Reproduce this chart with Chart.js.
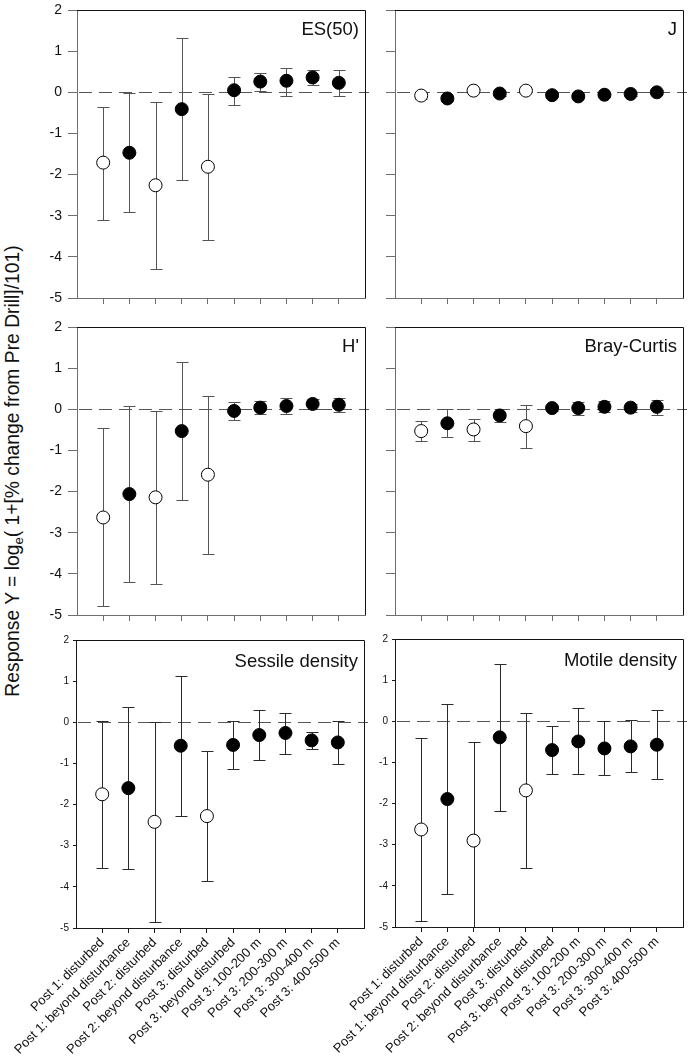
<!DOCTYPE html>
<html><head><meta charset="utf-8">
<script src="https://cdn.jsdelivr.net/npm/chart.js@4/dist/chart.umd.min.js"></script>
<style>
html,body{margin:0;padding:0;background:#fff;}
body{width:692px;height:1058px;position:relative;overflow:hidden;font-family:'Liberation Sans',Arial,sans-serif;}
canvas{position:absolute;}
#ytitle{position:absolute;left:14px;top:471px;white-space:nowrap;font-size:19.3px;color:#111;line-height:1;transform:translate(-50%,-50%) rotate(-90deg);}
#ytitle sub{font-size:13px;vertical-align:-4px;line-height:1;}
</style></head><body>
<div id="ytitle">Response Y = log<sub>e</sub>( 1+[% change from Pre Drill]/101)</div>
<canvas id="c0"></canvas><canvas id="c1"></canvas><canvas id="c2"></canvas>
<canvas id="c3"></canvas><canvas id="c4"></canvas><canvas id="c5"></canvas>
<script>
const categories = ['Post 1: disturbed','Post 1: beyond disturbance','Post 2: disturbed','Post 2: beyond disturbance','Post 3: disturbed','Post 3: beyond disturbed','Post 3: 100-200 m','Post 3: 200-300 m','Post 3: 300-400 m','Post 3: 400-500 m'];
const yTickValues = [2, 1, 0, -1, -2, -3, -4, -5];

const es50Mean = [-1.71, -1.47, -2.26, -0.41, -1.81, 0.05, 0.26, 0.28, 0.36, 0.23];
const es50Low  = [-3.10, -2.91, -4.30, -2.13, -3.59, -0.32, 0.04, -0.08, 0.18, -0.10];
const es50High = [-0.35, -0.01, -0.23, 1.31, -0.04, 0.38, 0.46, 0.60, 0.53, 0.54];

const jMean = [-0.08, -0.15, 0.04, -0.03, 0.04, -0.07, -0.10, -0.06, -0.04, 0.00];
const jLow  = [-0.17, -0.20, 0.00, -0.08, 0.00, -0.12, -0.15, -0.11, -0.09, -0.05];
const jHigh = [-0.02, -0.10, 0.08, 0.02, 0.08, -0.02, -0.05, -0.01, 0.01, 0.05];

const hMean = [-2.63, -2.06, -2.14, -0.53, -1.59, -0.04, 0.04, 0.08, 0.13, 0.11];
const hLow  = [-4.78, -4.21, -4.25, -2.20, -3.52, -0.27, -0.12, -0.12, 0.00, -0.07];
const hHigh = [-0.46, 0.08, -0.04, 1.15, 0.33, 0.18, 0.20, 0.28, 0.26, 0.28];

const brayMean = [-0.53, -0.34, -0.49, -0.15, -0.41, 0.03, 0.03, 0.06, 0.04, 0.06];
const brayLow  = [-0.77, -0.67, -0.76, -0.30, -0.94, -0.03, -0.13, -0.06, -0.06, -0.14];
const brayHigh = [-0.28, 0.00, -0.23, 0.00, 0.11, 0.09, 0.18, 0.20, 0.14, 0.23];

const sessileMean = [-1.75, -1.60, -2.42, -0.57, -2.28, -0.55, -0.31, -0.26, -0.44, -0.49];
const sessileLow  = [-3.55, -3.57, -4.85, -2.28, -3.86, -1.13, -0.91, -0.76, -0.64, -1.02];
const sessileHigh = [0.03, 0.38, 0.00, 1.13, -0.71, 0.03, 0.31, 0.23, -0.23, 0.04];

const motileMean = [-2.63, -1.89, -2.90, -0.39, -1.68, -0.70, -0.49, -0.66, -0.61, -0.57];
const motileLow  = [-4.85, -4.19, -5.30, -2.17, -3.56, -1.28, -1.28, -1.30, -1.24, -1.41];
const motileHigh = [-0.40, 0.42, -0.51, 1.39, 0.20, -0.12, 0.32, 0.00, 0.03, 0.28];

const FONT = "'Liberation Sans', Arial, sans-serif";
Chart.defaults.font.family = FONT;

const PW = 288, PH = 288;
const panels = [
  {id:'c0', title:'ES(50)', mean:es50Mean, low:es50Low, high:es50High, l:77, t:10, canvasL:0, yLabels:true, bottom:false},
  {id:'c1', title:'J', mean:jMean, low:jLow, high:jHigh, l:395, t:10, canvasL:370, yLabels:false, bottom:false},
  {id:'c2', title:"H'", mean:hMean, low:hLow, high:hHigh, l:77, t:327, canvasL:0, yLabels:true, bottom:false},
  {id:'c3', title:'Bray-Curtis', mean:brayMean, low:brayLow, high:brayHigh, l:395, t:327, canvasL:370, yLabels:false, bottom:false},
  {id:'c4', title:'Sessile density', mean:sessileMean, low:sessileLow, high:sessileHigh, l:76, t:640, canvasL:0, yLabels:true, bottom:true},
  {id:'c5', title:'Motile density', mean:motileMean, low:motileLow, high:motileHigh, l:395, t:639, canvasL:330, yLabels:true, bottom:true}
];

function isOpen(label){ return /: disturbed$/.test(label); }

function makePlugin(p){
  const barCol = p.bottom ? '#2a2a2a' : '#555555';
  return {
    id: 'panelDecor',
    beforeDatasetsDraw(chart){
      const {ctx, chartArea:a, scales:{x, y}} = chart;
      ctx.save();
      const y0 = Math.round(y.getPixelForValue(0)) + 0.5;
      ctx.strokeStyle = '#555';
      ctx.lineWidth = 1;
      ctx.setLineDash([13, 7]);
      ctx.beginPath(); ctx.moveTo(a.left + 2, y0); ctx.lineTo(a.right + 4, y0); ctx.stroke();
      ctx.setLineDash([]);
      ctx.beginPath(); ctx.rect(a.left, a.top, a.right - a.left, a.bottom - a.top); ctx.clip();
      ctx.strokeStyle = barCol;
      ctx.beginPath();
      p.mean.forEach((m, i) => {
        const px = Math.round(x.getPixelForValue(i)) + 0.5;
        const pl = Math.round(y.getPixelForValue(p.low[i])) + 0.5;
        const ph = Math.round(y.getPixelForValue(p.high[i])) + 0.5;
        ctx.moveTo(px, pl); ctx.lineTo(px, ph);
        ctx.moveTo(px - 6, pl); ctx.lineTo(px + 6, pl);
        ctx.moveTo(px - 6, ph); ctx.lineTo(px + 6, ph);
      });
      ctx.stroke();
      ctx.restore();
    },
    afterDraw(chart){
      const {ctx, chartArea:a} = chart;
      ctx.save();
      ctx.strokeStyle = '#111';
      ctx.lineWidth = 1;
      ctx.beginPath();
      ctx.moveTo(a.left, Math.round(a.top) + 0.5); ctx.lineTo(Math.round(a.right) + 0.5, Math.round(a.top) + 0.5);
      ctx.lineTo(Math.round(a.right) + 0.5, Math.round(a.bottom));
      ctx.stroke();
      ctx.fillStyle = '#111';
      ctx.font = '18.5px ' + FONT;
      ctx.textAlign = 'right';
      ctx.textBaseline = 'alphabetic';
      ctx.fillText(p.title, a.right - 6, a.top + (p.bottom ? 27 : 24.5));
      ctx.restore();
    }
  };
}

panels.forEach(p => {
  const yW = p.l - p.canvasL;
  const padTop = p.bottom ? 10 : 16, padRight = 8;
  const xH = p.bottom ? 130 : 18;
  const cv = document.getElementById(p.id);
  cv.width = yW + PW + padRight;
  cv.height = padTop + PH + xH;
  cv.style.left = p.canvasL + 'px';
  cv.style.top = (p.t - padTop) + 'px';
  const axisCol = p.bottom ? '#1a1a1a' : '#6e6e6e';
  new Chart(cv, {
    type: 'scatter',
    data: {
      datasets: [{
        data: p.mean.map((v, i) => ({x: i, y: v})),
        pointRadius: 6.5,
        pointHoverRadius: 6.5,
        pointBackgroundColor: categories.map(c => isOpen(c) ? '#ffffff' : '#000000'),
        pointBorderColor: '#000000',
        pointBorderWidth: 1,
        showLine: false
      }]
    },
    options: {
      responsive: false,
      animation: false,
      events: [],
      layout: {padding: {top: padTop, right: padRight, left: 0, bottom: 0}},
      plugins: {legend: {display: false}, tooltip: {enabled: false}},
      scales: {
        x: {
          type: 'linear', min: -1, max: 10,
          afterBuildTicks: s => { s.ticks = categories.map((_, i) => ({value: i})); },
          afterFit: s => { s.height = xH; },
          ticks: {
            display: p.bottom, autoSkip: false, minRotation: 45, maxRotation: 45,
            font: {size: 13, family: FONT}, color: '#111', padding: 2,
            callback: v => categories[v]
          },
          grid: {drawOnChartArea: false, drawTicks: true, tickLength: p.bottom ? 5 : 6, color: axisCol, lineWidth: 1},
          border: {display: true, color: axisCol, width: 1}
        },
        y: {
          type: 'linear', min: -5, max: 2,
          afterBuildTicks: s => { s.ticks = yTickValues.map(v => ({value: v})); },
          afterFit: s => { s.width = yW; },
          ticks: {
            display: p.yLabels, font: {size: p.bottom ? 10 : 14, family: FONT}, color: '#111',
            padding: p.bottom ? 4 : 6,
            callback: v => String(v)
          },
          grid: {drawOnChartArea: false, drawTicks: true, tickLength: p.bottom ? 3 : 9, color: axisCol, lineWidth: 1},
          border: {display: true, color: axisCol, width: 1}
        }
      }
    },
    plugins: [makePlugin(p)]
  });
});
</script>
</body></html>
